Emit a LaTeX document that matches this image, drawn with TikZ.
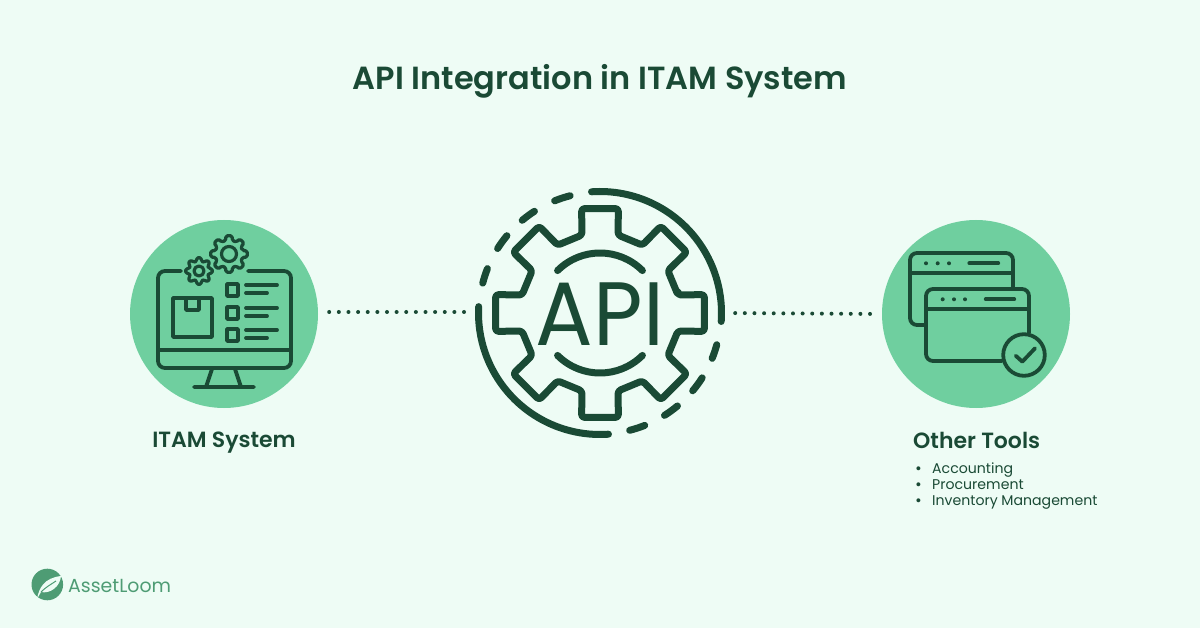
\documentclass[tikz,border=0pt]{standalone}
\usepackage{fontspec}
\setmainfont{Poppins}
\newfontfamily\semifont{Poppins SemiBold}
\usetikzlibrary{positioning,calc}
\definecolor{bgmint}{HTML}{EEFCF5}
\definecolor{discgreen}{HTML}{6FCF9F}
\definecolor{inkgreen}{HTML}{1A4A35}
\definecolor{logogreen}{HTML}{4E9C74}
\tikzset{
  disc/.style={circle,fill=discgreen,minimum size=188pt,inner sep=0pt},
  icon/.style={draw=inkgreen,line width=3.8pt,line cap=round,line join=round},
  thin icon/.style={icon,line width=3.2pt},
  big icon/.style={icon,line width=7pt},
  dotline/.style={draw=inkgreen,line width=4pt,line cap=round,dash pattern=on 0pt off 9.63pt},
  heading/.style={inner sep=0pt,text=inkgreen,font=\semifont\fontsize{22}{26}\selectfont},
  listing/.style={inner sep=0pt,anchor=base west,text=inkgreen,font=\fontsize{14.1}{16}\selectfont},
}
% #1 centre, #2 outer radius, #3 root radius, #4 rotation
\newcommand{\gearline}[4]{
  (#1) ++(#4-13:#3)
  \foreach \a in {0,45,...,315}{
    -- ($(#1)+(#4+\a-13:#3)$) -- ($(#1)+(#4+\a-10:#2)$)
    -- ($(#1)+(#4+\a+10:#2)$) -- ($(#1)+(#4+\a+13:#3)$)
  } -- cycle
}
\begin{document}
\begin{tikzpicture}[x=1pt,y=-1pt]
  \path[use as bounding box,fill=bgmint] (0,0) rectangle (1200,628);

  \node[inner sep=0pt,text=inkgreen,font=\semifont\fontsize{32}{38}\selectfont] (title) at (600,81) {API Integration in ITAM System};

  \node[disc] (itam) at (224,314) {};
  \node[disc] (tools) at (976,314) {};
  \node[circle,minimum size=250pt,inner sep=0pt] (hub) at (600,313) {};
  \draw[dotline,shorten <=11pt,shorten >=9pt] ([yshift=2pt]itam.east) -- ([yshift=1pt]hub.west);
  \draw[dotline,shorten <=10pt,shorten >=9pt] (hub.east) -- (tools.west);

  % monitor
  \draw[icon,rounded corners=7pt] (181,271) -- (158,271) -- (158,368) -- (291,368) -- (291,271) -- (248,271);
  \draw[icon] (158,350) -- (291,350);
  \draw[icon] (212,369) -- (206,387) (235,369) -- (241,387) (194,387) -- (254,387);
  \draw[icon] (173,298) rectangle (212,337);
  \draw[icon] (186,298) -- (186,310) -- (199,310) -- (199,298);
  \foreach \y/\m in {290/285,313/308,335/330}{
    \draw[icon] (227,\y-6) rectangle (238,\y+6);
    \draw[icon] (246,\m) -- (277,\m) (246,\m+8) -- (267,\m+8);
  }
  \draw[thin icon,rounded corners=1.5pt] \gearline{229,254}{18.5}{14}{0};
  \draw[thin icon] (229,254) circle (7.5);
  \draw[thin icon,rounded corners=1.5pt,fill=discgreen] \gearline{199,271}{13.5}{10}{0};
  \draw[thin icon] (199,271) circle (5);

  % api gear
  \draw[big icon,rounded corners=3pt] \gearline{600,313}{106}{80}{0};
  \draw[big icon] (600,313) ++(-45:60) arc[start angle=-45,end angle=-135,radius=60];
  \draw[big icon] (600,313) ++(45:60) arc[start angle=45,end angle=135,radius=60];
  \node[inner sep=0pt,text=inkgreen,xscale=.95,font=\fontsize{90}{90}\selectfont] (api) at (600,314) {API};
  \draw[big icon] (600,313) ++(-94:121.5) arc[start angle=-94,end angle=4,radius=121.5];
  \draw[big icon] (600,313) ++(-177:121.5) arc[start angle=-177,end angle=-274,radius=121.5];
  \foreach \p/\q in {112/104.3,130/122.8,147.8/140.3,165.7/158.5,-15.2/-22,-32.4/-40,-50.2/-57.8,-68.3/-75.8}{
    \draw[big icon] (600,313) ++(-\p:121) arc[start angle=-\p,end angle=-\q,radius=121];
  }

  % windows
  \draw[icon,rounded corners=7pt] (925,325) -- (910,325) -- (910,253) -- (1013,253) -- (1013,287);
  \draw[icon] (910,272.7) -- (1013,272.7);
  \draw[icon,rounded corners=7pt] (1002,361) -- (926,361) -- (926,289) -- (1029,289) -- (1029,333);
  \draw[icon] (926,309) -- (1029,309);
  \foreach \x in {926,937.7,949}{\fill[inkgreen] (\x,263.3) circle (2);}
  \foreach \x in {942.7,954,965}{\fill[inkgreen] (\x,299.3) circle (2);}
  \draw[icon] (969.3,263.3) -- (998.3,263.3) (985.7,299.3) -- (1014.3,299.3);
  \draw[icon] (1024,355) circle (20.8);
  \draw[icon] (1015.7,355.7) -- (1022.3,361.7) -- (1035,348.3);

  \node[heading] (itamlabel) at (224,443) {ITAM System};
  \node[heading,anchor=west] (toolslabel) at (913,440) {Other Tools};
  \foreach \n/\y/\t in {acc/473/Accounting,proc/489/Procurement,inv/505/Inventory Management}{
    \node[listing] (\n) at (915,\y) {\makebox[17pt][l]{\semifont •}\t};
  }

  % logo
  \fill[logogreen] (47.3,584.5) circle (15.8);
  \fill[bgmint] (37,599) .. controls (39,588) and (44,578) .. (61,576) .. controls (60,587) and (50,594) .. (41,592) -- (37,599) -- cycle;
  \draw[logogreen,line width=1pt] (41,592) .. controls (46,587) and (50,585) .. (56,581);
  \node[inner sep=0pt,anchor=west,text=logogreen,font=\fontsize{18.9}{22}\selectfont] (brand) at (68,586) {AssetLoom};
\end{tikzpicture}
\end{document}
